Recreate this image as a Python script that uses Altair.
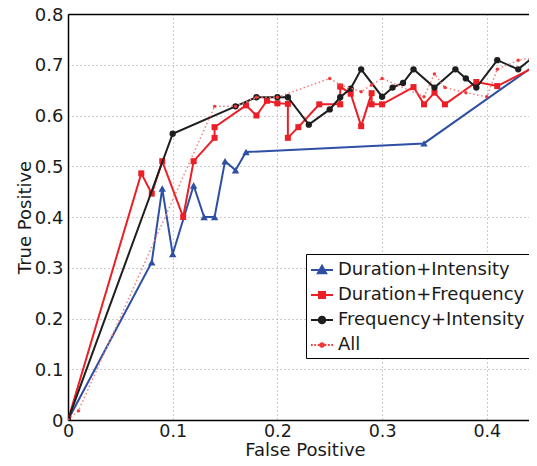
import altair as alt
import pandas as pd

series_names = ["Duration+Intensity", "Duration+Frequency", "Frequency+Intensity", "All"]

# Duration+Intensity (blue, triangles)
di_fpr = [0, 0.08, 0.09, 0.10, 0.12, 0.13, 0.14, 0.15, 0.16, 0.17, 0.34, 0.45]
di_tpr = [0, 0.311, 0.456, 0.327, 0.462, 0.400, 0.400, 0.510, 0.492, 0.528, 0.545, 0.705]

# Duration+Frequency (red, squares)
df_fpr = [0, 0.07, 0.08, 0.09, 0.11, 0.12, 0.14, 0.14, 0.17, 0.18, 0.19, 0.20, 0.21, 0.21,
          0.22, 0.24, 0.26, 0.26, 0.27, 0.28, 0.29, 0.29, 0.30, 0.33, 0.34, 0.35, 0.36,
          0.39, 0.41, 0.45]
df_tpr = [0, 0.486, 0.446, 0.510, 0.400, 0.510, 0.556, 0.577, 0.620, 0.600, 0.629, 0.624,
          0.623, 0.556, 0.577, 0.622, 0.622, 0.657, 0.643, 0.579, 0.644, 0.622, 0.622,
          0.656, 0.622, 0.645, 0.622, 0.666, 0.658, 0.700]

# Frequency+Intensity (black, circles)
fi_fpr = [0, 0.10, 0.16, 0.18, 0.20, 0.21, 0.23, 0.25, 0.26, 0.27, 0.28, 0.30, 0.31, 0.32,
          0.33, 0.35, 0.37, 0.38, 0.39, 0.41, 0.43, 0.45]
fi_tpr = [0, 0.564, 0.618, 0.636, 0.636, 0.636, 0.582, 0.612, 0.636, 0.653, 0.691, 0.637,
          0.655, 0.664, 0.691, 0.655, 0.691, 0.673, 0.655, 0.709, 0.691, 0.725]

# All (pink dotted, small dots)
all_fpr = [0, 0.01, 0.14, 0.16, 0.18, 0.20, 0.25, 0.26, 0.28, 0.29, 0.30, 0.34, 0.35, 0.36,
           0.38, 0.40, 0.41, 0.43, 0.45]
all_tpr = [0, 0.018, 0.618, 0.618, 0.636, 0.636, 0.673, 0.660, 0.647, 0.660, 0.673, 0.637,
           0.682, 0.655, 0.645, 0.637, 0.691, 0.709, 0.715]

x_ticks = [0, 0.1, 0.2, 0.3, 0.4]
y_ticks = [0, 0.1, 0.2, 0.3, 0.4, 0.5, 0.6, 0.7, 0.8]

colors = ["#2E4FA3", "#EC1E26", "#1E1E1E", "#EE3A3A"]
all_line_color = "#F27E7E"

rows = []
for name, xs, ys in zip(series_names, [di_fpr, df_fpr, fi_fpr, all_fpr],
                        [di_tpr, df_tpr, fi_tpr, all_tpr]):
    for i, (xv, yv) in enumerate(zip(xs, ys)):
        rows.append({"series": name, "fpr": xv, "tpr": yv, "idx": i})
data = pd.DataFrame(rows)

FONT = "DejaVu Sans"
X_MAX = 0.4403  # visible part of the 0..0.45 axis (the reference crops the right edge)

x_scale = alt.Scale(domain=[0, X_MAX], nice=False, zero=False)
y_scale = alt.Scale(domain=[0, 0.8], nice=False, zero=False)

x_enc = alt.X(
    "fpr:Q", scale=x_scale,
    axis=alt.Axis(values=x_ticks, format="~g", ticks=False, tickSize=0, domain=True,
                  labelFlush=False, labelPadding=2, labelFontSize=17.5, title="False Positive",
                  titleX=237, titleY=35, titleBaseline="alphabetic"),
)
y_enc = alt.Y(
    "tpr:Q", scale=y_scale,
    axis=alt.Axis(values=y_ticks, format="~g", ticks=False, tickSize=0, domain=True,
                  labelFlush=False, labelPadding=5, labelOffset=1, title="True Positive",
                  titleX=-43, titleY=203, titleAngle=270, titleAlign="center",
                  titleBaseline="middle"),
)

base = alt.Chart(data)


def series_layers(name, color, shape, size, width, dash=None, line_color=None):
    sub = base.transform_filter(alt.datum.series == name)
    kw = dict(color=line_color or color, strokeWidth=width, clip=True)
    if dash:
        kw["strokeDash"] = dash
    line = sub.mark_line(**kw).encode(x=x_enc, y=y_enc, order="idx:Q")
    pts = sub.mark_point(shape=shape, filled=True, size=size, color=color,
                         opacity=1, clip=True).encode(x=x_enc, y=y_enc)
    return [line, pts]


layers = []
layers += series_layers(series_names[0], colors[0], "triangle-up", 55, 2)
layers += series_layers(series_names[1], colors[1], "square", 36, 2)
layers += series_layers(series_names[2], colors[2], "circle", 40, 2)
layers += series_layers(series_names[3], colors[3], "circle", 12, 1.5, dash=[1.5, 2.5],
                        line_color=all_line_color)

legend_paths = [
    "M-1,0H1M0,-0.38L0.38,0.3L-0.38,0.3Z",
    "M-1,0H1M-0.27,-0.27H0.27V0.27H-0.27Z",
    "M-1,0H1M0.3,0A0.3,0.3,0,1,1,-0.3,0A0.3,0.3,0,1,1,0.3,0",
    "M-1,0H-0.85M-0.7,0H-0.55M-0.4,0H-0.25M0.25,0H0.4M0.55,0H0.7M0.85,0H1"
    "M0.16,0A0.16,0.16,0,1,1,-0.16,0A0.16,0.16,0,1,1,0.16,0",
]

leg = alt.Legend(
    title=None, orient="none", legendX=238, legendY=240, direction="vertical",
    fillColor="white", strokeColor="black", padding=4, cornerRadius=0,
    symbolSize=484, symbolStrokeWidth=2, symbolOffset=0,
    labelFont=FONT, labelFontSize=18, labelColor="#1a1a1a", labelOffset=4,
    labelLimit=400, rowPadding=4,
)

legend_layer = base.transform_filter("datum.fpr > 1").mark_point(filled=True, opacity=1).encode(
    x=x_enc, y=y_enc,
    fill=alt.Fill("series:N", scale=alt.Scale(domain=series_names, range=colors), legend=leg),
    stroke=alt.Stroke("series:N", scale=alt.Scale(domain=series_names, range=colors), legend=leg),
    shape=alt.Shape("series:N", scale=alt.Scale(domain=series_names, range=legend_paths), legend=leg),
)
layers.append(legend_layer)

main = alt.layer(*layers)

# top frame line of the axes box
top_frame = base.transform_filter("datum.fpr > 1").mark_point().encode(
    x=alt.X("fpr:Q", scale=x_scale,
            axis=alt.Axis(orient="top", labels=False, ticks=False, grid=False, domain=True,
                          title=None)),
    y=y_enc,
)

chart = alt.layer(main, top_frame).resolve_axis(x="independent").properties(
    width=461, height=406,
    autosize=alt.AutoSizeParams(type="none"),
    padding={"left": 60, "top": 6, "right": 0, "bottom": 38},
).configure_view(
    stroke=None,
).configure_axis(
    grid=True, gridColor="#9a9a9a", gridDash=[1, 3], gridWidth=1,
    domainColor="black", domainWidth=1.5,
    labelFont=FONT, labelFontSize=18, labelColor="#1a1a1a",
    titleFont=FONT, titleFontSize=18, titleColor="#1a1a1a", titleFontWeight="normal",
)

chart.save("out.html", embed_options={"renderer": "svg", "actions": False})
